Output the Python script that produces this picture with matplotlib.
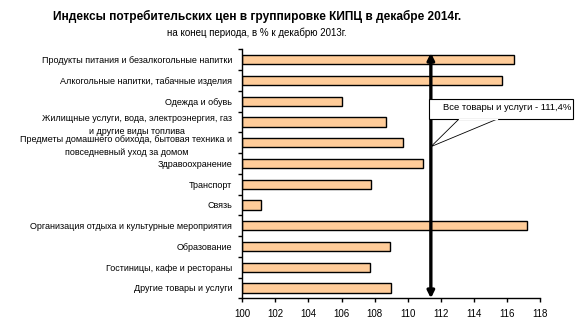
import matplotlib
matplotlib.use("Agg")
import matplotlib.pyplot as plt
from matplotlib.patches import Rectangle, Polygon

plt.rcParams['font.family'] = ['Liberation Sans', 'DejaVu Sans']

categories = [
    "Продукты питания и безалкогольные напитки",
    "Алкогольные напитки, табачные изделия",
    "Одежда и обувь",
    "Жилищные услуги, вода, электроэнергия, газ\nи другие виды топлива",
    "Предметы домашнего обихода, бытовая техника и\nповседневный уход за домом",
    "Здравоохранение",
    "Транспорт",
    "Связь",
    "Организация отдыха и культурные мероприятия",
    "Образование",
    "Гостиницы, кафе и рестораны",
    "Другие товары и услуги",
]
values = [116.4, 115.7, 106.0, 108.7, 109.7, 110.9, 107.8, 101.1, 117.2, 108.9, 107.7, 109.0]
total_index = 111.4
total_label = "Все товары и услуги - 111,4%"
x_ticks = list(range(100, 119, 2))

W, H = 586, 332
fig = plt.figure(figsize=(W / 100, H / 100), dpi=100)
ax = fig.add_axes([242.33 / W, 1 - 298.3 / H, 297.67 / W, 249.0 / H])

pos = list(range(len(categories)))
ax.barh(pos, [v - 100 for v in values], left=100, height=0.45,
        color="#FFCC99", edgecolor="black", linewidth=1.0, zorder=2)

ax.set_xlim(100, 118)
ax.set_ylim(len(categories) - 0.5, -0.5)
ax.set_xticks(x_ticks)
ax.set_xticklabels([str(t) for t in x_ticks], fontsize=7)

# category labels at bar centres, tick marks between categories
ax.set_yticks(pos)
ax.set_yticklabels(categories, fontsize=6.5, linespacing=1.55)
ax.tick_params(axis="y", length=0, pad=7.2)
ax.set_yticks([p - 0.5 for p in pos] + [len(pos) - 0.5], minor=True)
ax.tick_params(axis="y", which="minor", length=3, width=1, direction="out")
ax.tick_params(axis="x", length=3, width=1, direction="out", pad=5)
for t in ax.get_yticklabels():
    t.set_multialignment("center")

for s in ("top", "right"):
    ax.spines[s].set_visible(False)
for s in ("left", "bottom"):
    ax.spines[s].set_linewidth(1.0)

# overall index line with arrows at both ends
ax.annotate("", xy=(total_index, 0.986), xytext=(total_index, 0.0),
            xycoords=("data", "axes fraction"), textcoords=("data", "axes fraction"),
            arrowprops=dict(arrowstyle="<|-|>", lw=2.4, color="black",
                            mutation_scale=10, shrinkA=0, shrinkB=0),
            zorder=5, annotation_clip=False)

# callout box
tip_x = (total_index - 100) / 18
callout = Polygon([(0.7269, 0.7189), (tip_x, 0.6088), (0.8545, 0.7189)],
                  closed=True, facecolor="white", edgecolor="black", lw=0.6,
                  transform=ax.transAxes, clip_on=False, zorder=6)
ax.add_patch(callout)
box = Rectangle((0.6261, 0.7189), 0.4861, 0.0815, facecolor="white",
                edgecolor="black", lw=0.8, transform=ax.transAxes,
                clip_on=False, zorder=7)
ax.add_patch(box)
ax.plot([0.7269, 0.8545], [0.7189, 0.7189], color="white", lw=0.9,
        transform=ax.transAxes, clip_on=False, zorder=8)
ax.text(0.6261 + 0.4861 / 2 + 0.02, 0.7189 + 0.0815 / 2 + 0.006, total_label,
        transform=ax.transAxes, ha="center", va="center", fontsize=6.8, zorder=9)

fig.text(257 / W, 1 - 16 / H, "Индексы потребительских цен в группировке КИПЦ в декабре 2014г.",
         ha="center", va="center", fontsize=8.6, fontweight="bold")
fig.text(257 / W, 1 - 33 / H, "на конец периода, в % к декабрю 2013г.",
         ha="center", va="center", fontsize=7)

fig.savefig("out.png", dpi=100)
